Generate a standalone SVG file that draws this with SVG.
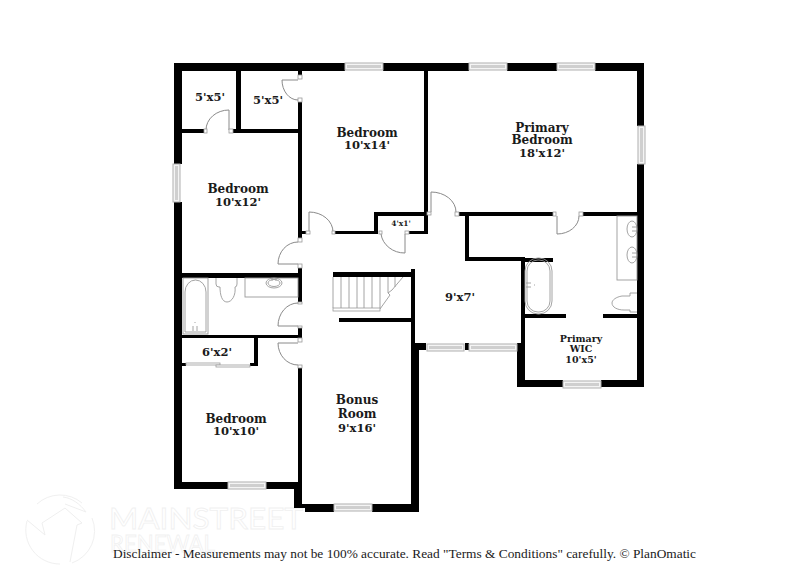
<svg xmlns="http://www.w3.org/2000/svg" width="809" height="588" viewBox="0 0 809 588">
<style>
.w{fill:#000}
.win{fill:#f4f4f4;stroke:#b0b0b0;stroke-width:1}
.pane{fill:#cfcfcf}
.j{fill:#fff;stroke:#999;stroke-width:.8}
.d{fill:none;stroke:#8a8a8a;stroke-width:1}
.f{fill:none;stroke:#9a9a9a;stroke-width:.9}
.t{font-family:"DejaVu Serif",serif;font-weight:700;font-size:12px;fill:#1a1a1a;text-anchor:middle}
.s{font-size:11.500px}
.v{font-size:9.500px}
.mark{font-family:"Lato","Liberation Sans",sans-serif;fill:#fff;stroke:#f0f0f0;stroke-width:.8}
</style>
<rect width="809" height="588" fill="#fff"/>
<g id="watermark">
<path d="M37 504A34 34 0 0 1 82 503M92 518A34 34 0 0 1 72 563M60 564A34 34 0 0 1 27 521" fill="none" stroke="#f0f0f0" stroke-width="1"/>
<path d="M27 520L45 535L42 523L65 508L82 523L77 525L70 562M63 497C72 498 80 504 86 512L65 504" fill="none" stroke="#efefef" stroke-width="1"/>
<text class="mark" x="109" y="529" font-size="29" textLength="194" lengthAdjust="spacingAndGlyphs">MAINSTREET</text>
<text class="mark" x="110" y="552" font-size="23" textLength="105" lengthAdjust="spacingAndGlyphs">RENEWAL</text>
</g>
<g id="walls">
<rect class="w" x="174" y="63" width="171" height="8"/>
<rect class="w" x="383" y="63" width="86" height="8"/>
<rect class="w" x="507" y="63" width="50" height="8"/>
<rect class="w" x="595" y="63" width="49" height="8"/>
<rect class="w" x="637" y="63" width="7" height="63"/>
<rect class="w" x="637" y="164" width="7" height="223"/>
<rect class="w" x="174" y="63" width="8" height="101"/>
<rect class="w" x="174" y="202" width="8" height="287"/>
<rect class="w" x="174" y="482" width="54" height="7"/>
<rect class="w" x="266" y="482" width="36" height="7"/>
<path class="w" d="M294 482H302V504H334V512H305V508H294Z"/>
<rect class="w" x="372" y="504" width="47" height="8"/>
<path class="w" d="M411 269H415V343H426V350H419V512H411Z"/>
<rect class="w" x="236" y="71" width="5" height="60"/>
<rect class="w" x="182" y="129" width="22" height="4"/>
<rect class="w" x="233" y="129" width="69" height="4"/>
<rect class="w" x="298" y="71" width="4" height="4"/>
<rect class="w" x="298" y="100" width="4" height="138"/>
<rect class="w" x="424" y="71" width="4" height="163"/>
<rect class="w" x="374" y="212" width="54" height="4"/>
<rect class="w" x="374" y="212" width="4" height="22"/>
<rect class="w" x="335" y="231" width="43" height="3"/>
<rect class="w" x="409" y="231" width="19" height="3"/>
<rect class="w" x="302" y="231" width="5" height="3"/>
<rect class="w" x="298" y="268" width="4" height="34"/>
<rect class="w" x="182" y="273" width="120" height="5"/>
<rect class="w" x="298" y="328" width="4" height="10"/>
<rect class="w" x="182" y="335" width="120" height="3"/>
<rect class="w" x="298" y="368" width="4" height="120"/>
<rect class="w" x="254" y="338" width="4" height="28"/>
<rect class="w" x="250" y="363" width="8" height="3"/>
<rect class="w" x="182" y="363" width="4" height="3"/>
<rect class="w" x="333" y="272" width="80" height="5"/>
<rect class="w" x="339" y="318" width="72" height="4"/>
<rect class="w" x="465" y="343" width="4" height="7"/>
<rect class="w" x="459" y="212" width="94" height="4"/>
<rect class="w" x="583" y="212" width="54" height="4"/>
<rect class="w" x="465" y="212" width="4" height="49"/>
<rect class="w" x="465" y="257" width="60" height="4"/>
<rect class="w" x="525" y="258" width="28" height="4"/>
<rect class="w" x="521" y="257" width="4" height="90"/>
<rect class="w" x="517" y="343" width="8" height="44"/>
<rect class="w" x="525" y="314" width="41" height="4"/>
<rect class="w" x="603" y="314" width="34" height="4"/>
<rect class="w" x="517" y="380" width="46" height="7"/>
<rect class="w" x="601" y="380" width="43" height="7"/>
</g>
<g id="windows">
<rect class="win" x="345" y="63" width="38" height="7"/><rect class="pane" x="347" y="65" width="34" height="3"/>
<rect class="win" x="469" y="63" width="38" height="7"/><rect class="pane" x="471" y="65" width="34" height="3"/>
<rect class="win" x="557" y="63" width="38" height="7"/><rect class="pane" x="559" y="65" width="34" height="3"/>
<rect class="win" x="638" y="126" width="7" height="38"/><rect class="pane" x="640" y="128" width="3" height="34"/>
<rect class="win" x="173" y="164" width="7" height="38"/><rect class="pane" x="175" y="166" width="3" height="34"/>
<rect class="win" x="427" y="344" width="37" height="7"/><rect class="pane" x="429" y="346" width="33" height="3"/>
<rect class="win" x="469" y="344" width="48" height="7"/><rect class="pane" x="471" y="346" width="44" height="3"/>
<rect class="win" x="563" y="381" width="38" height="7"/><rect class="pane" x="565" y="383" width="34" height="3"/>
<rect class="win" x="228" y="482" width="38" height="7"/><rect class="pane" x="230" y="484" width="34" height="3"/>
<rect class="win" x="334" y="504" width="38" height="7"/><rect class="pane" x="336" y="506" width="34" height="3"/>
</g>
<g id="doors">
<path class="d" d="M229 130V110A23 20 0 0 0 206 130"/>
<path class="d" d="M298 80H282A16 20 0 0 0 298 100"/>
<path class="d" d="M309 232V212A24 20 0 0 1 333 232"/>
<path class="d" d="M381 234A24 22 0 0 0 405 253V234"/>
<path class="d" d="M298 242A20 22 0 0 0 278 264H298"/>
<path class="d" d="M298 303A20 23 0 0 0 278 326H298"/>
<path class="d" d="M298 343H278A20 22 0 0 0 298 365"/>
<path class="d" d="M431 212V192A25 20 0 0 1 456 212"/>
<path class="d" d="M557 216V234A22 18 0 0 0 579 216"/>
<rect class="j" x="204" y="129" width="3" height="4"/>
<rect class="j" x="229" y="129" width="4" height="4"/>
<rect class="j" x="298" y="75" width="4" height="4"/>
<rect class="j" x="298" y="98" width="4" height="4"/>
<rect class="j" x="306" y="231" width="4" height="3"/>
<rect class="j" x="332" y="231" width="3" height="3"/>
<rect class="j" x="379" y="231" width="3" height="3"/>
<rect class="j" x="405" y="231" width="4" height="3"/>
<rect class="j" x="298" y="238" width="4" height="4"/>
<rect class="j" x="298" y="264" width="4" height="4"/>
<rect class="j" x="298" y="302" width="4" height="2"/>
<rect class="j" x="298" y="326" width="4" height="2"/>
<rect class="j" x="298" y="338" width="4" height="4"/>
<rect class="j" x="298" y="365" width="4" height="3"/>
<rect class="j" x="427" y="212" width="4" height="3"/>
<rect class="j" x="455" y="212" width="4" height="4"/>
<rect class="j" x="553" y="212" width="3" height="4"/>
<rect class="j" x="579" y="212" width="4" height="4"/>
<rect class="j" x="186" y="363" width="34" height="2"/>
<rect class="j" x="216" y="365" width="34" height="2"/>
</g>
<g id="stairs">
<path class="f" d="M333 277V308M341 277V308M349 277V308M357 277V308M364 277V308M372 277V308M380 277V308M388 277V293M395 277V287"/>
<path class="f" d="M403 277L392 290L388 293L390 295L380 309"/>
<rect class="j" x="333" y="308" width="47" height="3"/>
</g>
<g id="fixtures">
<rect class="f" x="183" y="278" width="25" height="56"/>
<path class="f" d="M185 332V292A10.500 12 0 0 1 206 292V332Z"/>
<path class="f" d="M193 326V331M197 326V331M195 322V323"/>
<path class="f" d="M216 278V284Q216 287 219 287H220C220 295 222 302 227 302C232 302 236 295 235 287Q237 287 237 284V278"/>
<rect class="f" x="245" y="278" width="53" height="19"/>
<ellipse class="f" cx="274" cy="283" rx="8" ry="5"/>
<ellipse class="f" cx="274" cy="283" rx="6" ry="3.500"/>
<path class="f" d="M272 278V281M276 278V281"/>
<rect class="f" x="617" y="216" width="20" height="64"/>
<ellipse class="f" cx="632" cy="229" rx="5" ry="8"/>
<ellipse class="f" cx="632" cy="255" rx="5" ry="8"/>
<path class="f" d="M632 227H637M632 231H637M632 253H637M632 257H637"/>
<rect class="f" x="525" y="258" width="27" height="56" rx="13"/>
<rect class="f" x="527" y="260" width="23" height="52" rx="11"/>
<path class="f" d="M526 283H531M526 287H531M534 285H535"/>
<path class="f" d="M637 293H630V296H622C616 297 612 300 612 303C612 307 617 310 624 310H630V312H637"/>
</g>
<g id="labels">
<text class="t s" x="210" y="101">5'x5'</text>
<text class="t s" x="268" y="104">5'x5'</text>
<text class="t" x="367" y="137">Bedroom</text>
<text class="t s" x="367" y="149">10'x14'</text>
<text class="t" x="238" y="193">Bedroom</text>
<text class="t s" x="238" y="206">10'x12'</text>
<text class="t" x="542" y="132">Primary</text>
<text class="t" x="542" y="144">Bedroom</text>
<text class="t s" x="542" y="157">18'x12'</text>
<text class="t" x="401" y="226" style="font-size:7.500px">4'x1'</text>
<text class="t s" x="460" y="301">9'x7'</text>
<text class="t s" x="217" y="356">6'x2'</text>
<text class="t v" x="581" y="342">Primary</text>
<text class="t v" x="581" y="352">WIC</text>
<text class="t v" x="581" y="363">10'x5'</text>
<text class="t" x="236" y="423">Bedroom</text>
<text class="t s" x="236" y="435">10'x10'</text>
<text class="t" x="357" y="404">Bonus</text>
<text class="t" x="357" y="418">Room</text>
<text class="t s" x="357" y="432">9'x16'</text>
<text x="113" y="558" font-family="'Liberation Serif',serif" font-size="13.500" fill="#1a1a1a" textLength="583" lengthAdjust="spacingAndGlyphs">Disclaimer - Measurements may not be 100% accurate. Read "Terms &amp; Conditions" carefully. © PlanOmatic</text>
</g>
</svg>
